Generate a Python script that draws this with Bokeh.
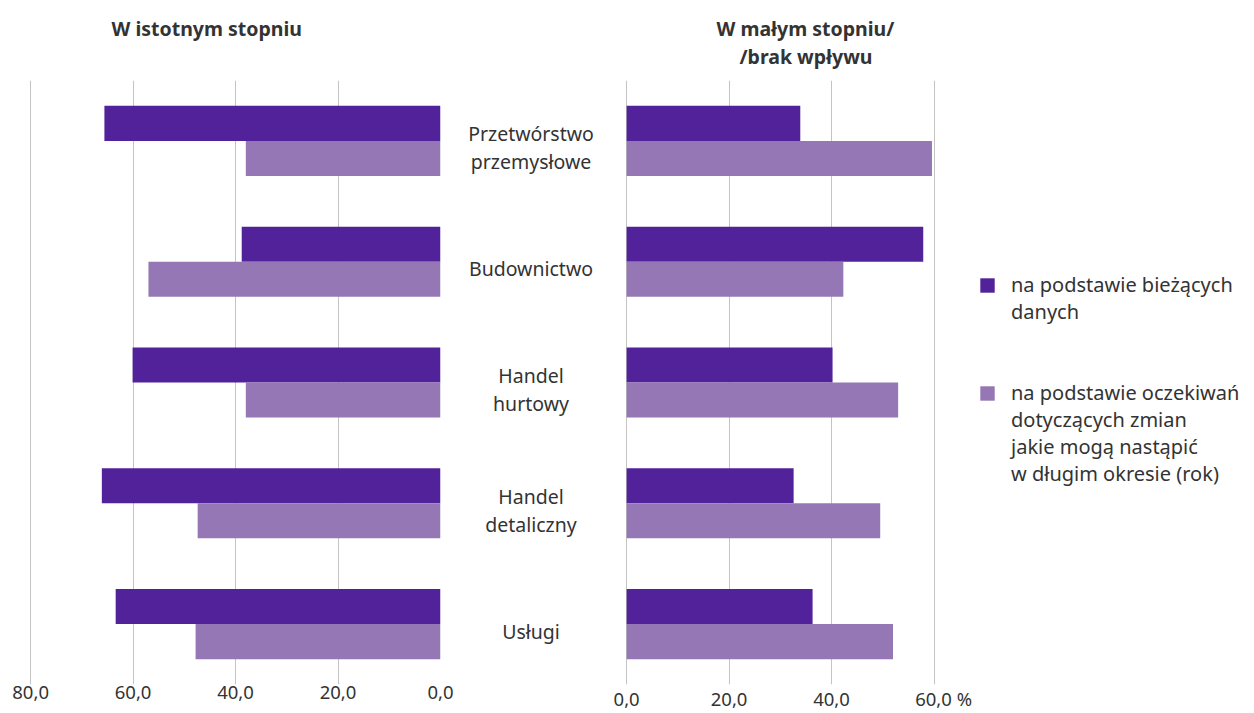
from bokeh.plotting import figure
from bokeh.models import (Range1d, FactorRange, FixedTicker, Title, Legend, LegendItem,
                          ColumnDataSource)
from bokeh.transform import dodge
from bokeh.layouts import row
from bokeh.embed import file_html
from bokeh.resources import INLINE
from bokeh.core.properties import value

categories = ["Przetwórstwo przemysłowe", "Budownictwo", "Handel hurtowy",
              "Handel detaliczny", "Usługi"]
category_labels = ["Przetwórstwo\nprzemysłowe", "Budownictwo", "Handel\nhurtowy",
                   "Handel\ndetaliczny", "Usługi"]

# W istotnym stopniu
significant_current = [65.6, 38.8, 60.1, 66.1, 63.4]
significant_expected = [38.0, 57.0, 38.0, 47.4, 47.8]
# W małym stopniu / brak wpływu
small_current = [33.9, 57.9, 40.2, 32.6, 36.3]
small_expected = [59.6, 42.3, 53.0, 49.5, 52.0]

left_ticks = [0, 20, 40, 60, 80]
left_tick_labels = ["0,0", "20,0", "40,0", "60,0", "80,0"]
right_ticks = [0, 20, 40, 60]
right_tick_labels = ["0,0", "20,0", "40,0", "\u00a0\u00a0\u00a0\u00a060,0 %"]

series1_lines = ["na podstawie bieżących", "danych"]
series2_lines = ["na podstawie oczekiwań", "dotyczących zmian",
                 "jakie mogą nastąpić", "w długim okresie (rok)"]

DARK = "#52229a"
LIGHT = "#9477b4"
TEXT = "#333333"
GRID = "#c4c4c4"
FONT = "Noto Sans"

src = ColumnDataSource(dict(cat=categories, lab=category_labels,
                            sc=significant_current, se=significant_expected,
                            mc=small_current, me=small_expected))

yr = FactorRange(factors=categories[::-1], range_padding=0)

H = 713
TOP = 80
BOTTOM = 28
BAR_H = 0.29
DOD = 0.145


def style(p, ticks, labels):
    p.outline_line_color = None
    p.yaxis.visible = False
    p.ygrid.grid_line_color = None
    p.xaxis.ticker = FixedTicker(ticks=ticks)
    p.xaxis.major_label_overrides = {t: l for t, l in zip(ticks, labels)}
    p.xaxis.axis_line_color = None
    p.xaxis.major_tick_line_color = None
    p.xaxis.minor_tick_line_color = None
    p.xaxis.major_tick_out = 0
    p.xaxis.major_tick_in = 0
    p.xaxis.major_label_standoff = 1
    p.xaxis.major_label_text_font = FONT
    p.xaxis.major_label_text_font_size = "18.5px"
    p.xaxis.major_label_text_color = TEXT
    p.xgrid.grid_line_color = GRID
    p.xgrid.grid_line_width = 1
    p.background_fill_color = None
    p.border_fill_color = None


def add_title(p, text, offset, standoff):
    p.add_layout(Title(text=text, align="left", offset=offset, text_font=FONT,
                       text_font_size="19.5px", text_font_style="bold",
                       text_color=TEXT, standoff=standoff), "above")


# Left panel
pl = figure(width=460, height=H, x_range=Range1d(81, 0), y_range=yr,
            output_backend="svg", toolbar_location=None,
            min_border_left=25, min_border_right=20, min_border_top=TOP,
            min_border_bottom=BOTTOM)
style(pl, left_ticks, left_tick_labels)
pl.hbar(y=dodge("cat", DOD, range=yr), left=0, right="sc", height=BAR_H,
        source=src, fill_color=DARK, line_color=None)
pl.hbar(y=dodge("cat", -DOD, range=yr), left=0, right="se", height=BAR_H,
        source=src, fill_color=LIGHT, line_color=None)
add_title(pl, "\u00a0", 0, 21)
add_title(pl, "W istotnym stopniu", 86, -22)

# Middle panel (category labels)
pm = figure(width=141, height=H, x_range=Range1d(0, 1), y_range=yr,
            output_backend="svg", toolbar_location=None,
            min_border_left=0, min_border_right=0, min_border_top=TOP,
            min_border_bottom=BOTTOM)
pm.axis.visible = False
pm.grid.grid_line_color = None
pm.outline_line_color = None
pm.background_fill_color = None
pm.border_fill_color = None
pm.text(x=0.5, y=dodge("cat", 0, range=yr), text="lab", source=src,
        text_align="center", text_baseline="middle", y_offset=7,
        text_font=value(FONT), text_font_size="19.5px", text_color=TEXT,
        text_line_height=1.03)

# Right panel (bars + legend area)
pr = figure(width=649, height=H, x_range=Range1d(-1, 121), y_range=yr,
            output_backend="svg", toolbar_location=None,
            min_border_left=20, min_border_right=4, min_border_top=TOP,
            min_border_bottom=BOTTOM)
style(pr, right_ticks, right_tick_labels)
r1 = pr.hbar(y=dodge("cat", DOD, range=yr), left=0, right="mc", height=BAR_H,
             source=src, fill_color=DARK, line_color=None)
r2 = pr.hbar(y=dodge("cat", -DOD, range=yr), left=0, right="me", height=BAR_H,
             source=src, fill_color=LIGHT, line_color=None)
blank = pr.scatter(x=[], y=[], size=1, fill_alpha=0, line_alpha=0)
add_title(pr, "/brak wpływu", 118, 21)
add_title(pr, "W małym stopniu/", 95, -22)

items = [LegendItem(label=series1_lines[0], renderers=[r1])]
items += [LegendItem(label=t, renderers=[blank]) for t in series1_lines[1:]]
items += [LegendItem(label="\u00a0", renderers=[blank]) for _ in range(2)]
items += [LegendItem(label=series2_lines[0], renderers=[r2])]
items += [LegendItem(label=t, renderers=[blank]) for t in series2_lines[1:]]

legend = Legend(items=items, location=(357, 197), margin=0, padding=0, spacing=0,
                glyph_width=18, glyph_height=18, label_standoff=15, label_height=25,
                label_text_font=FONT, label_text_font_size="20px",
                label_text_color=TEXT, label_text_baseline="middle",
                border_line_alpha=0, background_fill_alpha=0)
pr.add_layout(legend, "center")

layout = row(pl, pm, pr)
open("out.html", "w").write(file_html(layout, INLINE))
